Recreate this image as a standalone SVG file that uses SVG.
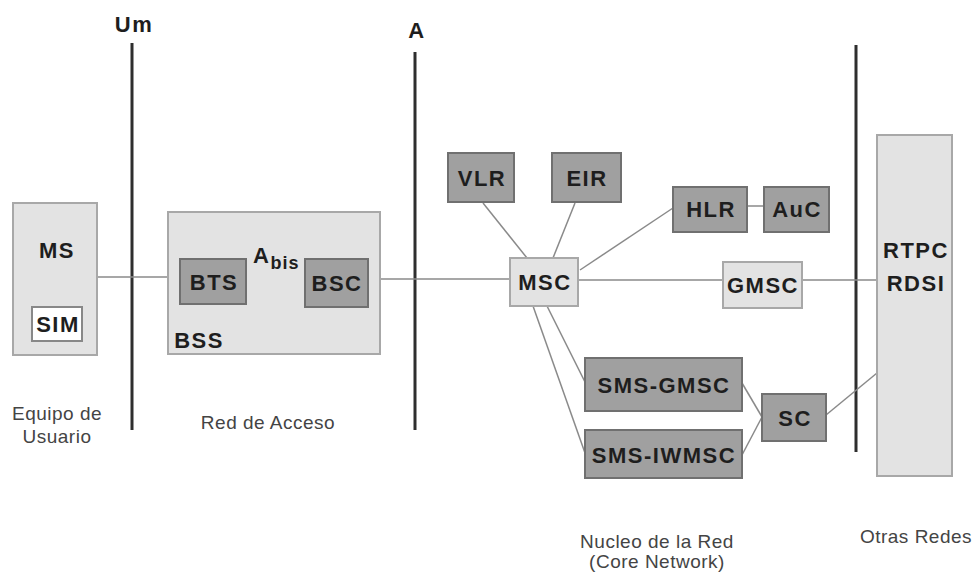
<svg xmlns="http://www.w3.org/2000/svg" width="975" height="572" viewBox="0 0 975 572">
<style>
.light{fill:#e3e3e3;stroke:#a8a8a8;stroke-width:2}
.dark{fill:#a0a0a0;stroke:#707070;stroke-width:2}
.white{fill:#ffffff;stroke:#888;stroke-width:2}
.lbl{font-family:"Liberation Sans",Arial,sans-serif;font-weight:bold;font-size:22px;letter-spacing:1.5px;fill:#1e1e1e;text-anchor:middle}
.sm{font-family:"Liberation Sans",Arial,sans-serif;font-size:19px;letter-spacing:0.5px;fill:#444;text-anchor:middle}
.bar{stroke:#2e2e2e;stroke-width:3}
.conn line{stroke:#8a8a8a;stroke-width:1.5}
</style>
<rect width="975" height="572" fill="#fff"/>
<g id="interfaces">
<line class="bar" x1="132" y1="43" x2="132" y2="430"/>
<line class="bar" x1="415" y1="52" x2="415" y2="430"/>
<line class="bar" x1="856" y1="45" x2="856" y2="452"/>
<text class="lbl" x="134" y="32">Um</text>
<text class="lbl" x="417" y="38">A</text>
</g>
<g class="conn" id="connectors">
<line x1="97" y1="277" x2="180" y2="277"/>
<line x1="246" y1="276" x2="305" y2="276"/>
<line x1="368" y1="279" x2="510" y2="279"/>
<line x1="483" y1="203" x2="527" y2="258"/>
<line x1="575" y1="203" x2="553" y2="258"/>
<line x1="673" y1="208" x2="580" y2="270"/>
<line x1="747" y1="206" x2="764" y2="206"/>
<line x1="578" y1="280" x2="723" y2="280"/>
<line x1="802" y1="280" x2="877" y2="280"/>
<line x1="547" y1="306" x2="585" y2="382"/>
<line x1="533" y1="306" x2="585" y2="453"/>
<line x1="742" y1="383" x2="762" y2="417"/>
<line x1="742" y1="455" x2="762" y2="417"/>
<line x1="826" y1="415" x2="877" y2="373"/>
</g>
<g id="MS"><rect class="light" x="13" y="203" width="84" height="152"/><text class="lbl" x="57" y="258">MS</text></g>
<g id="SIM"><rect class="white" x="32" y="307" width="50" height="34"/><text class="lbl" x="58" y="332">SIM</text></g>
<g id="BSS"><rect class="light" x="168" y="212" width="212" height="142"/><text class="lbl" x="199" y="348">BSS</text></g>
<g id="BTS"><rect class="dark" x="180" y="259" width="66" height="45"/><text class="lbl" x="214" y="290">BTS</text></g>
<g id="BSC"><rect class="dark" x="305" y="259" width="63" height="48"/><text class="lbl" x="337" y="291">BSC</text></g>
<g id="Abis"><text class="lbl" style="text-anchor:start" x="253" y="263">A<tspan font-size="18" dy="6" letter-spacing="1">bis</tspan></text></g>
<g id="VLR"><rect class="dark" x="448" y="153" width="66" height="49"/><text class="lbl" x="482" y="186">VLR</text></g>
<g id="EIR"><rect class="dark" x="552" y="153" width="69" height="49"/><text class="lbl" x="587" y="186">EIR</text></g>
<g id="HLR"><rect class="dark" x="673" y="187" width="74" height="45"/><text class="lbl" x="711" y="217">HLR</text></g>
<g id="AuC"><rect class="dark" x="764" y="187" width="65" height="45"/><text class="lbl" x="797" y="217">AuC</text></g>
<g id="MSC"><rect class="light" x="510" y="258" width="68" height="48"/><text class="lbl" x="545" y="290">MSC</text></g>
<g id="GMSC"><rect class="light" x="723" y="262" width="79" height="46"/><text class="lbl" x="763" y="293">GMSC</text></g>
<g id="SMS-GMSC"><rect class="dark" x="585" y="358" width="157" height="53"/><text class="lbl" x="664" y="393">SMS-GMSC</text></g>
<g id="SMS-IWMSC"><rect class="dark" x="585" y="430" width="157" height="48"/><text class="lbl" x="664" y="463">SMS-IWMSC</text></g>
<g id="SC"><rect class="dark" x="762" y="394" width="64" height="47"/><text class="lbl" x="795" y="426">SC</text></g>
<g id="RTPC"><rect class="light" x="877" y="135" width="75" height="341"/><text class="lbl" x="916" y="258">RTPC</text><text class="lbl" x="916" y="291">RDSI</text></g>
<g id="labels">
<text class="sm" x="57" y="420">Equipo de</text>
<text class="sm" x="57" y="443">Usuario</text>
<text class="sm" x="268" y="429">Red de Acceso</text>
<text class="sm" x="657" y="548">Nucleo de la Red</text>
<text class="sm" x="657" y="568">(Core Network)</text>
<text class="sm" x="916" y="543">Otras Redes</text>
</g>
</svg>
